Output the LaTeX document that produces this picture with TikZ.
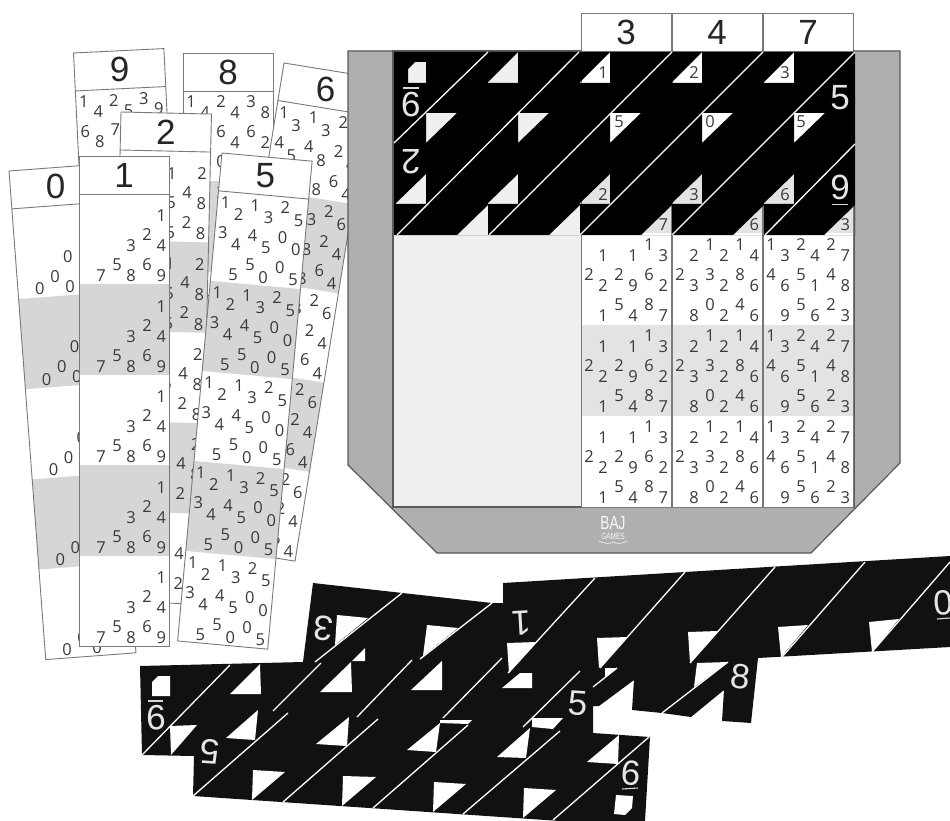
\documentclass[tikz,border=0pt]{standalone}
\usepackage{fontspec}
\setmainfont{Open Sans}
\newfontfamily\headfont{Liberation Sans}
\usepackage{xcolor}
\definecolor{TrayGray}{HTML}{ADAFB1}
\definecolor{TrayEdge}{HTML}{58595B}
\definecolor{TrayFloor}{HTML}{EEF0F0}
\definecolor{BandGray}{HTML}{D5D7D7}
\definecolor{StripEdge}{HTML}{77797B}
\definecolor{DigitInk}{HTML}{3A3A3A}
\definecolor{CardInk}{HTML}{0F1113}

% one numbered strip: [band height]{x}{y}{rotation}{number}{nine cells tens/units}
\newcommand{\bonestrip}[6][90.4]{%
	\begin{scope}[shift={(#2,#3)},rotate=#4]
		\fill[white] (0,0) rectangle (90.5,38+5*#1);
		\foreach \band in {1,3}
			\fill[BandGray] (0,38+\band*#1) rectangle (90.5,38+\band*#1+#1);
		\foreach \band in {0,...,4}{
			\pgfmathsetmacro{\bandtop}{38+\band*#1}
			\foreach \tn/\un [count=\cell from 0] in {#6}{
				\pgfmathtruncatemacro{\col}{mod(\cell,3)}
				\pgfmathtruncatemacro{\row}{int(\cell/3)}
				\node[digit] at (8+30*\col,\bandtop+11+30*\row) {\tn};
				\node[digit] at (22+30.2*\col,\bandtop+22+30*\row) {\un};
			}
		}
		\draw[strip edge] (0,0) rectangle (90.5,38+5*#1);
		\draw[strip edge] (0,38) -- (90.5,38);
		\node[head digit] at (45.2,19) {#5};
	\end{scope}
}

\begin{document}
\begin{tikzpicture}[
	x=1pt,y=-1pt,
	% Style for the small digits on the strips
	digit/.style={
		font=\fontsize{16.5}{16.5}\selectfont,
		text=DigitInk,
		inner sep=0pt
	},
	% Style for the number at the head of a strip
	head digit/.style={
		font=\headfont\fontsize{35}{35}\selectfont,
		text=black!85,
		inner sep=0pt
	},
	% Style for the big numbers on the black cards
	card digit/.style={
		font=\headfont\fontsize{35}{35}\selectfont,
		text=white!90!black,
		inner sep=0pt
	},
	strip edge/.style={draw=StripEdge, line width=0.9pt},
	tray edge/.style={draw=TrayEdge, line width=1.2pt},
	slit/.style={draw=white, line width=1.3pt},
	bar/.style={draw=white!85!black, line width=1.1pt}
	]
	
	\useasboundingbox (0,0) rectangle (950,821);
	\clip (0,0) rectangle (950,821);
	
	% 1. Loose strips, back to front
	\bonestrip{73.5}{53}{2.8}{9}{1/4,2/5,3/9,6/8,7/,/,/,/,/}
	\bonestrip{183}{53}{0}{8}{1/4,2/4,3/8,/,6/4,6/2,/,0/,/}
	\bonestrip{284}{63}{-9.2}{6}{1/3,1/3,2/6,4/5,4/8,2/4,/,/8,6/4}
	\bonestrip{121}{112}{-1.3}{2}{/,/1,/2,/,/5,4/8,/,/5,2/8}
	\bonestrip{9}{171}{4.3}{0}{/,/,/,/,/0,/,/0,0/0,/}
	\bonestrip{79}{156}{0}{1}{/,/,/1,/,/3,2/4,/7,5/8,6/9}
	\bonestrip{222}{153}{-5.2}{5}{1/2,1/3,2/5,3/4,4/5,0/0,/5,5/0,0/5}
	
	% 2. The tray and the three strips standing in it
	\filldraw[fill=TrayGray,tray edge] (348,51) -- (900,51) -- (900,463) -- (811,553)
		-- (437,553) -- (348,465) -- cycle;
	\filldraw[fill=TrayFloor,tray edge] (393,51) rectangle (854,507);
	\colorlet{BandGray}{BandGray!70!white}
	\bonestrip[91.2]{581}{13}{0}{3}{/1,/1,1/3,2/2,2/9,6/2,/1,5/4,8/7}
	\bonestrip[91.2]{672}{13}{0}{4}{/2,1/2,1/4,2/3,3/2,8/6,/8,0/2,4/6}
	\bonestrip[91.2]{763}{13}{0}{7}{1/3,2/4,2/7,4/6,5/1,4/8,/9,5/6,2/3}
	
	% 3. Black card in the tray, its windows cut out so the digits show through
	\fill[black,even odd rule] (394,52) rectangle (855,235)
		(408,83) -- (426,83) -- (426,62) -- (415,62) -- (408,69) -- cycle
		\foreach \xr in {518,610,702,794}{
			(\xr-31,83) -- (\xr,83) -- (\xr,52) -- cycle
		}
		\foreach \xl in {426,518,610,702,794}{
			(\xl,113) -- (\xl+31,113) -- (\xl,143) -- cycle
		}
		\foreach \xr in {426,518,610,702,794}{
			(\xr-31,204) -- (\xr,204) -- (\xr,174) -- cycle
		}
		\foreach \xr in {488,580,672,764,855}{
			(\xr-31,235) -- (\xr,235) -- (\xr,205) -- cycle
		};
	\foreach \ax/\ay/\bx/\by in {488/52/394/143,579/52/397/235,672/52/489/235,
		763/52/580/235,855/52/672/235,855/144/765/235}
		\draw[slit] (\ax,\ay) -- (\bx,\by);
	\node[card digit] (tray5) at (840,98) {5};
	\node[card digit] (tray9) at (840,187) {9};
	\node[card digit,rotate=180] (traynine) at (411,105) {9};
	\node[card digit,rotate=180] (traytwo) at (411,162) {2};
	\draw[bar] (832,204.5) -- (848,204.5);
	\draw[bar] (403,88) -- (419,88);
	
	% Maker's mark
	\node[text=white!92!TrayGray,font=\headfont\fontsize{19}{19}\selectfont,inner sep=0pt] (logobaj) at (613,523) {\scalebox{0.72}[1]{BAJ}};
	\node[text=white!92!TrayGray,font=\headfont\fontsize{9}{9}\selectfont,inner sep=0pt] (logogames) at (613,536) {\scalebox{0.72}[1]{GAMES}};
	\draw[white!92!TrayGray,line width=0.6pt] (599,541) .. controls (604,544) and (610,544) .. (613,542) .. controls (616,544) and (622,544) .. (627,541);
	
	% 4. Pile of black cards below the tray, drawn as one outline
	\fill[CardInk] (140,666) -- (303,662) -- (313,583) -- (492,603) -- (503,603) -- (503,583)
		-- (950,556) -- (950,647) -- (758,658) -- (751,723) -- (722,721) -- (724,690)
		-- (691,717) -- (662,713) -- (632,710) -- (634,680) -- (599,706) -- (593,706)
		-- (593,733) -- (650,737) -- (645,821) -- (560,821) -- (193,796) -- (194,756)
		-- (142,755) -- cycle;
	
	% Windows of the pile
	\foreach \ax/\ay/\bx/\by/\cx/\cy in {
		230/694/261/694/260/664, 170/726/197/725/171/755, 226/738/255/740/258/710,
		253/770/285/772/252/800, 320/692/352/692/351/662, 316/744/347/746/349/717,
		343/776/376/777/342/806, 411/690/442/690/442/661, 407/750/436/752/440/723,
		434/782/466/784/433/812, 337/615/368/618/335/645, 427/625/458/628/423/656,
		352/661/365/661/365/648, 507/643/537/642/509/673, 497/757/526/758/530/728,
		524/788/556/790/523/818, 587/762/618/764/619/735, 597/638/628/637/599/668,
		605/668/617/668/605/677, 688/632/718/631/690/663, 697/663/728/662/694/687,
		778/627/808/625/781/657, 869/622/899/619/872/652}
		\fill[white] (\ax,\ay) -- (\bx,\by) -- (\cx,\cy) -- cycle;
	\fill[white] (152,696) -- (170,696) -- (170,676) -- (158,676) -- (152,682) -- cycle;
	\fill[white] (616,795) -- (633,796) -- (632,808) -- (625,815) -- (614,814) -- cycle;
	\fill[white] (502,688) -- (532,688) -- (532,673) -- (520,673) -- cycle;
	\fill[white] (532,718) -- (563,718) -- (553,729) -- (532,727) -- cycle;
	\fill[white] (440,720) -- (472,720) -- (468,724) -- (440,723) -- cycle;
	
	% Slits of the pile
	\foreach \ax/\ay/\bx/\by in {230/665/142/755, 321/663/273/711, 412/660/357/717,
		502/658/443/718, 288/713/193/796, 378/719/283/802, 468/725/373/808,
		560/731/463/814, 649/737/553/820, 402/593/315/662, 492/603/420/659,
		595/578/508/673, 685/572/600/668, 775/567/690/663, 865/562/782/657,
		950/562/872/652, 580/671/523/727, 617/668/593/687, 728/662/662/713}
		\draw[slit] (\ax,\ay) -- (\bx,\by);
	
	% Numbers on the pile
	\node[card digit,rotate=173.4] (pile3) at (323,628) {3};
	\node[card digit,rotate=183.5] (pile1) at (522,623) {1};
	\node[card digit,rotate=181] (pile9) at (156,718) {9};
	\node[card digit,rotate=176] (pile5a) at (210,752) {5};
	\node[card digit,rotate=-4] (pile5b) at (578,703) {5};
	\node[card digit,rotate=-6.6] (pile8) at (741,677) {8};
	\node[card digit,rotate=-4] (pile6) at (631,773) {6};
	\node[card digit,rotate=3.5] (pile0) at (943,603) {0};
	\draw[bar] (148,701) -- (163,701);
	\draw[bar] (622,789) -- (638,788);
	\draw[bar] (937,619) -- (950,618);
	
\end{tikzpicture}
\end{document}
